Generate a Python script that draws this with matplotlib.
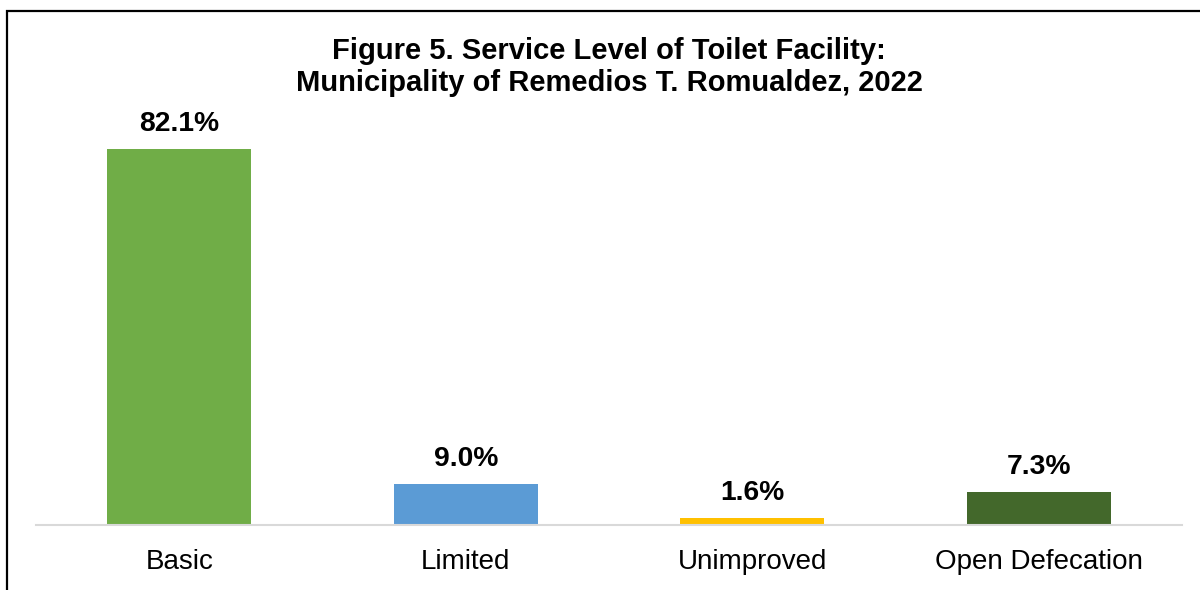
import matplotlib
matplotlib.use("Agg")
import matplotlib.pyplot as plt
from matplotlib.patches import Rectangle

categories = ["Basic", "Limited", "Unimproved", "Open Defecation"]
values = [82.1, 9.0, 1.6, 7.3]
value_labels = ["82.1%", "9.0%", "1.6%", "7.3%"]
colors = ["#70AD47", "#5B9BD5", "#FFC000", "#43682B"]
title = "Figure 5. Service Level of Toilet Facility:\nMunicipality of Remedios T. Romualdez, 2022"

plt.rcParams['font.family'] = ['Liberation Sans', 'DejaVu Sans']

W, H = 1200, 590
fig = plt.figure(figsize=(12, 5.9), dpi=100)

# axes placement in pixels
left_px, right_px, base_px = 36, 1182, 525
ymax = 90
px_per_unit = (525 - 149) / 82.1
top_px = base_px - ymax * px_per_unit
ax = fig.add_axes([left_px / W, 1 - base_px / H, (right_px - left_px) / W, (base_px - top_px) / H])

x = list(range(len(categories)))
ax.bar(x, values, width=0.503, color=colors, zorder=2)
ax.set_xlim(-0.5, len(categories) - 0.5)
ax.set_ylim(0, ymax)

for xi, v, lab in zip(x, values, value_labels):
    ax.annotate(lab, (xi, v), xytext=(0, 13), textcoords="offset points",
                ha="center", va="baseline", fontsize=20.3, fontweight="bold", color="#000000")

for s in ["top", "right", "left"]:
    ax.spines[s].set_visible(False)
ax.spines["bottom"].set_color("#D9D9D9")
ax.spines["bottom"].set_linewidth(1.5)
ax.set_yticks([])
ax.set_xticks(x)
ax.set_xticklabels(categories, fontsize=20)
ax.tick_params(axis="x", length=0, pad=17.5)
ax.patch.set_alpha(0)

fig.text(609 / W, 1 - 67 / H, title, ha="center", va="center", fontsize=21,
         fontweight="bold", linespacing=1.22)

# border rectangle (cut off on right and bottom)
fig.patches.append(Rectangle((7 / W, -0.1), 1.2, 1 - 11 / H + 0.1, transform=fig.transFigure,
                             fill=False, edgecolor="#000000", linewidth=1.6, zorder=0))

fig.savefig("out.png", dpi=100)
